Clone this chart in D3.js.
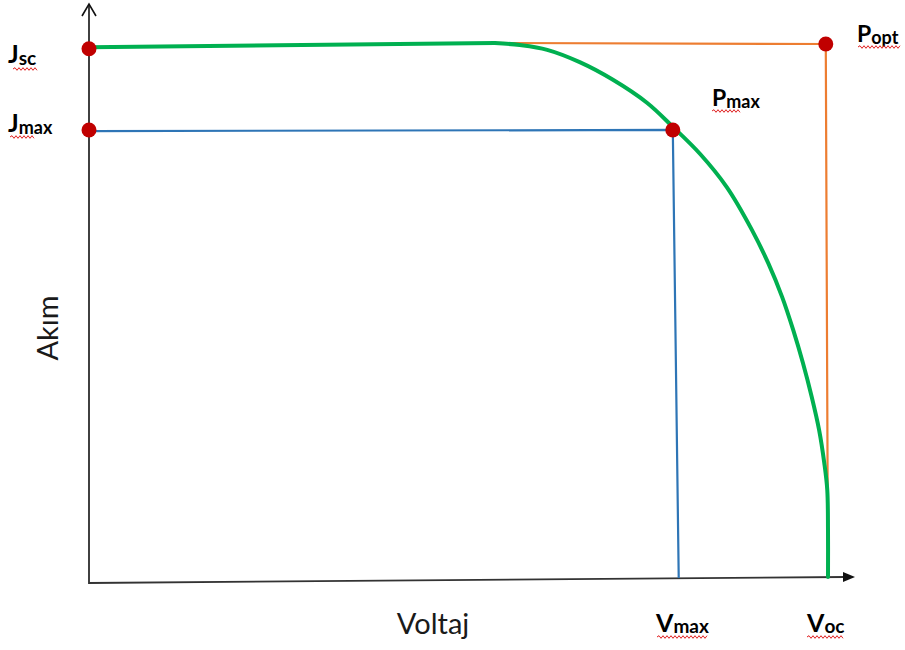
<!DOCTYPE html>
<html>
<head>
<meta charset="utf-8">
<script src="https://cdn.jsdelivr.net/npm/d3@7/dist/d3.min.js"></script>
<style>
  html, body { margin: 0; padding: 0; background: #fff; }
  svg { display: block; }
  text { font-family: Lato, "Open Sans", "Liberation Sans", sans-serif; }
</style>
</head>
<body>
<svg id="chart" width="905" height="650"></svg>
<script>
// ---- Data (relative units: voltage 0..100 = 0..Voc, current 0..100 = 0..Jsc) ----
// flat (short-circuit) part of the I-V curve
const flatV = [0, 54.9];
const flatJ = [99.4, 100.2];
// bending part of the I-V curve
const curveV = [54.9, 58.3, 62.0, 66.4, 70.9, 75.5, 79.0, 82.7, 86.3, 89.7, 91.9, 93.8, 95.3, 96.6, 97.8, 98.8, 99.5, 99.9, 100, 100];
const curveJ = [100.2, 99.8, 98.9, 96.6, 93.3, 89.0, 84.5, 79.4, 73.2, 65.2, 59.0, 52.6, 46.4, 40.3, 33.9, 27.7, 21.5, 16.5, 9.0, 0.2];

const maxRectV = [0, 79.0, 79.8];      // blue: Jmax level -> Pmax -> down to Vmax
const maxRectJ = [83.7, 83.9, 0];
const optRectV = [54.6, 99.7, 100];    // orange: Jsc level -> Popt -> down to Voc
const optRectJ = [100.2, 100, 0];

const pointNames = ["Jsc", "Jmax", "Pmax", "Popt"];
const pointV = [0, 0, 79.0, 99.7];
const pointJ = [99.1, 83.9, 83.9, 100];

const xLabel = "Voltaj";
const yLabel = "Akım";

// ---- Scales ----
const svg = d3.select("#chart");
const x = d3.scaleLinear().domain([0, 100]).range([89, 828]);
const y = d3.scaleLinear().domain([0, 100]).range([578, 44]);

const line = d3.line().x(d => x(d[0])).y(d => y(d[1]));
const smooth = d3.line().x(d => x(d[0])).y(d => y(d[1])).curve(d3.curveCatmullRom.alpha(0.5));

// ---- Axes (arrow style, drawn from scale ends) ----
const x0 = x(0), yb = y(0) + 5;
const g = svg.append("g");
g.append("line").attr("x1", x0).attr("y1", yb + 1).attr("x2", x0).attr("y2", 5)
  .attr("stroke", "#111").attr("stroke-width", 1.6);
g.append("path").attr("d", `M${x0 - 7},16 L${x0},4 L${x0 + 7},16`)
  .attr("fill", "none").attr("stroke", "#111").attr("stroke-width", 1.6);
const xe = x(100) + 17, ye = y(0) - 1;
g.append("line").attr("x1", x0).attr("y1", yb).attr("x2", xe).attr("y2", ye)
  .attr("stroke", "#333").attr("stroke-width", 1.8);
g.append("path").attr("d", `M${xe - 2},${ye - 5} L${xe + 10},${ye} L${xe - 2},${ye + 5} Z`)
  .attr("fill", "#111");

// ---- Rectangles ----
svg.append("path").datum(d3.zip(optRectV, optRectJ)).attr("d", line)
  .attr("fill", "none").attr("stroke", "#ED7D31").attr("stroke-width", 2.2);
svg.append("path").datum(d3.zip(maxRectV, maxRectJ)).attr("d", line)
  .attr("fill", "none").attr("stroke", "#2E75B6").attr("stroke-width", 2.2);

// ---- I-V curve ----
svg.append("path").datum(d3.zip(flatV, flatJ)).attr("d", line)
  .attr("fill", "none").attr("stroke", "#00B050").attr("stroke-width", 4)
  .attr("stroke-linecap", "round");
svg.append("path").datum(d3.zip(curveV, curveJ)).attr("d", smooth)
  .attr("fill", "none").attr("stroke", "#00B050").attr("stroke-width", 4)
  .attr("stroke-linecap", "round");

// ---- Points ----
svg.selectAll("circle.pt").data(d3.zip(pointV, pointJ)).join("circle")
  .attr("class", "pt")
  .attr("cx", d => x(d[0])).attr("cy", d => y(d[1])).attr("r", 7.5)
  .attr("fill", "#C00000");

// ---- Labels ----
function squiggle(x1, x2, yy) {
  let p = `M${x1},${yy}`;
  let up = true;
  for (let xx = x1 + 2; xx <= x2; xx += 2) {
    p += ` L${xx},${yy + (up ? -1.3 : 1.3)}`;
    up = !up;
  }
  return p;
}
function subLabel(main, sub, lx, ly, mainSize, subSize, subDy, sqx1, sqx2, sqy) {
  const t = svg.append("text").attr("x", lx).attr("y", ly)
    .attr("font-weight", "bold").attr("fill", "#000");
  t.append("tspan").attr("font-size", mainSize).text(main);
  t.append("tspan").attr("font-size", subSize).attr("dy", subDy).text(sub);
  svg.append("path").attr("d", squiggle(sqx1, sqx2, sqy))
    .attr("fill", "none").attr("stroke", "#E02020").attr("stroke-width", 1);
}
subLabel("J", "sc", 8, y(pointJ[0]) + 14, 25, 19, 2, 13, 37, 69);
subLabel("J", "max", 8, y(pointJ[1]) + 2, 25, 18, 2, 10, 34, 137);
subLabel("P", "max", 712, 106, 23, 18, 2, 712, 740, 111);
subLabel("P", "opt", 857, 42, 23, 18, 2, 858, 900, 47);
subLabel("V", "max", 656, 632, 25, 19, 1, 657, 708, 637);
subLabel("V", "oc", x(100) - 21, 632, 25, 19, 1, 807, 843, 637);

svg.append("text").attr("x", 433).attr("y", 634).attr("text-anchor", "middle")
  .attr("font-size", 29).attr("fill", "#1a1a1a").text(xLabel);
svg.append("text").attr("transform", "translate(58,328) rotate(-90)")
  .attr("text-anchor", "middle").attr("font-size", 29).attr("fill", "#1a1a1a").text(yLabel);
</script>
</body>
</html>
